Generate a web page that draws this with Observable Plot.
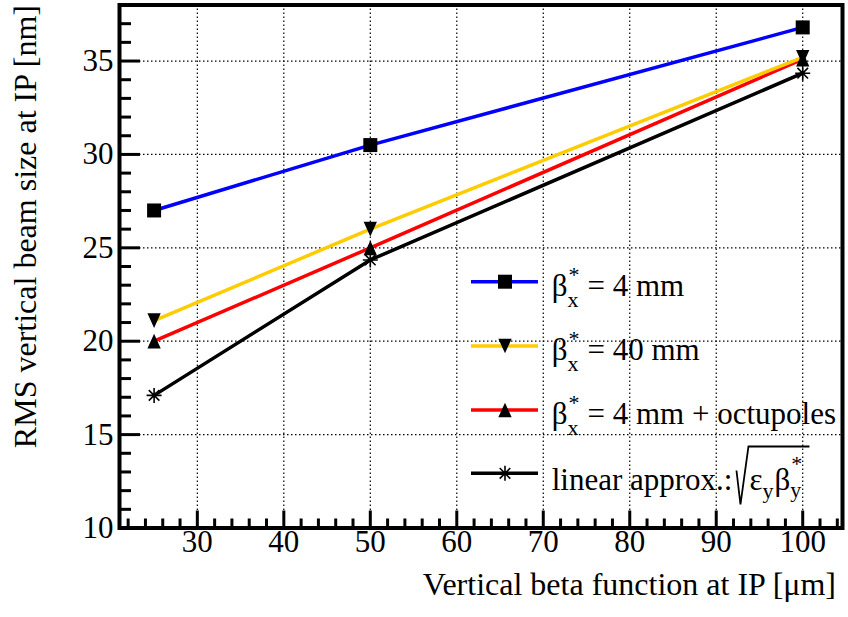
<!DOCTYPE html>
<html><head><meta charset="utf-8">
<script src="https://cdn.jsdelivr.net/npm/d3@7"></script>
<script src="https://cdn.jsdelivr.net/npm/@observablehq/plot@0.6"></script>
<style>body{margin:0;background:#fff}</style>
</head><body><div id="chart"></div>
<script>
// ---- data ----
const betaY = [25, 50, 100];                 // vertical beta function at IP [µm]
const sigma4mm = [27.0, 30.5, 36.8];        // beta*_x = 4 mm
const sigma40mm = [21.1, 26.0, 35.2];       // beta*_x = 40 mm
const sigma4mmOct = [20.0, 25.0, 35.1];     // beta*_x = 4 mm + octupoles
const sigmaLinear = [17.1, 24.35, 34.35];   // linear approx.
const xTicks = [30, 40, 50, 60, 70, 80, 90, 100];
const yTicks = [10, 15, 20, 25, 30, 35];
const xMinor = d3.range(22, 105, 2).filter(v => v % 10 !== 0);
const yMinor = d3.range(11, 38, 1).filter(v => v % 5 !== 0);

const FONT = '"Liberation Serif", "Times New Roman", serif';
const W = 848, H = 617, ML = 119, MR = 6, MT = 4.5, MB = 89.5;
const plotW = W - ML - MR, plotH = H - MT - MB;
const FS = 31, FSS = 22;

// ---- custom ROOT-like markers ----
const rOf = s => Math.sqrt(s / Math.PI);
const symSquare = {draw(c, s) { const r = rOf(s); c.rect(-r, -r, 2 * r, 2 * r); }};
const symTriUp = {draw(c, s) { const r = rOf(s); c.moveTo(0, -r * 1.05); c.lineTo(r * 0.95, r * 1.05); c.lineTo(-r * 0.95, r * 1.05); c.closePath(); }};
const symTriDown = {draw(c, s) { const r = rOf(s); c.moveTo(0, r * 1.05); c.lineTo(r * 0.95, -r * 1.05); c.lineTo(-r * 0.95, -r * 1.05); c.closePath(); }};
const symStar = {draw(c, s) { const r = rOf(s); for (let k = 0; k < 4; k++) { const a = k * Math.PI / 4; c.moveTo(-r * Math.cos(a), -r * Math.sin(a)); c.lineTo(r * Math.cos(a), r * Math.sin(a)); } }};

const series = [
  {values: sigma4mm, color: "#0000ff", symbol: symSquare, filled: true},
  {values: sigma4mmOct, color: "#ff0000", symbol: symTriUp, filled: true},
  {values: sigma40mm, color: "#ffcc00", symbol: symTriDown, filled: true},
  {values: sigmaLinear, color: "#000000", symbol: symStar, filled: false}
];
const tables = series.map(s => betaY.map((b, i) => ({x: b, y: s.values[i]})));

const dotted = {stroke: "black", strokeWidth: 1.2, strokeDasharray: "1.5,2.5"};
const marks = [
  Plot.ruleX(xTicks, {x: d => d, ...dotted}),
  Plot.ruleY(yTicks.filter(v => v > 10), {y: d => d, ...dotted}),
  Plot.ruleY(yTicks, {y: d => d, insetRight: plotW - 21, stroke: "black", strokeWidth: 3}),
  Plot.ruleY(yMinor, {y: d => d, insetRight: plotW - 12, stroke: "black", strokeWidth: 3}),
  Plot.ruleX(xTicks, {x: d => d, insetTop: plotH - 17, stroke: "black", strokeWidth: 3}),
  Plot.ruleX(xMinor, {x: d => d, insetTop: plotH - 9, stroke: "black", strokeWidth: 3}),
  Plot.frame({stroke: "black", strokeWidth: 4}),
  Plot.text(xTicks, {x: d => d, text: d => String(d), frameAnchor: "bottom", dy: 24, fontSize: FS, fill: "black"}),
  Plot.text(yTicks, {y: d => d, text: d => String(d), frameAnchor: "left", textAnchor: "end", dx: -6, fontSize: FS, fill: "black"})
];
series.forEach((s, i) => {
  marks.push(Plot.line(tables[i], {x: "x", y: "y", stroke: s.color, strokeWidth: 3.5}));
});
series.forEach((s, i) => {
  marks.push(Plot.dot(tables[i], {x: "x", y: "y", symbol: s.symbol, r: s.filled ? 7 : 7.5,
    fill: s.filled ? "black" : "none", stroke: s.filled ? "none" : "black", strokeWidth: 1.6}));
});

const svgNode = Plot.plot({
  width: W, height: H, marginLeft: ML, marginRight: MR, marginTop: MT, marginBottom: MB,
  x: {domain: [21.0, 104.6], axis: null},
  y: {domain: [10, 38], axis: null},
  style: {fontFamily: FONT, background: "white", color: "black"},
  marks
});
document.getElementById("chart").appendChild(svgNode);

// ---- axis titles ----
const svg = d3.select(svgNode);
svg.append("text").attr("x", 836).attr("y", 595).attr("text-anchor", "end")
  .attr("font-family", FONT).attr("font-size", 32).attr("fill", "black")
  .text("Vertical beta function at IP [μm]");
svg.append("text").attr("transform", "translate(36,5) rotate(-90)").attr("text-anchor", "end")
  .attr("font-family", FONT).attr("font-size", 32).attr("fill", "black")
  .text("RMS vertical beam size at IP [nm]");

// ---- legend ----
const lg = svg.append("g").attr("font-family", FONT).attr("fill", "black").attr("text-anchor", "start");
const legendRows = [
  {s: series[0], ly: 281.7, base: 296, rest: "= 4 mm"},
  {s: series[2], ly: 346, base: 360, rest: "= 40 mm"},
  {s: series[1], ly: 410, base: 424, rest: "= 4 mm + octupoles"},
  {s: series[3], ly: 473.3, base: 489.5, rest: null}
];
function txt(x, y, t, size) {
  const e = lg.append("text").attr("x", x).attr("y", y).attr("font-size", size)
    .attr("text-anchor", "start").text(t);
  return e.node().getComputedTextLength();
}
legendRows.forEach(row => {
  lg.append("line").attr("x1", 471).attr("x2", 538).attr("y1", row.ly).attr("y2", row.ly)
    .attr("stroke", row.s.color).attr("stroke-width", 3.5);
  const sym = d3.symbol().type(row.s.symbol).size(Math.PI * (row.s.filled ? 49 : 56));
  lg.append("path").attr("d", sym()).attr("transform", `translate(505,${row.ly})`)
    .attr("fill", row.s.filled ? "black" : "none").attr("stroke", row.s.filled ? "none" : "black")
    .attr("stroke-width", 1.6);
  const x0 = 551.7, B = row.base;
  if (row.rest) {
    const w1 = txt(x0, B, "β", FS);
    const ws = txt(x0 + w1 + 1, B - 14, "*", FSS);
    const wx = txt(x0 + w1, B + 11, "x", FSS);
    txt(x0 + w1 + Math.max(ws + 1, wx) + 8, B, row.rest, FS);
  } else {
    const w = txt(x0, B, "linear approx.:", FS);
    const rx = x0 + w + 4;
    lg.append("path").attr("d", `M${rx},${B - 19} L${rx + 4},${B + 15} L${rx + 12},${B - 43} H${rx + 73}`)
      .attr("fill", "none").attr("stroke", "black").attr("stroke-width", 1.8);
    let cx = rx + 13;
    cx += txt(cx, B, "ε", FS);
    cx += txt(cx, B + 8, "y", FSS) + 1;
    const wb = txt(cx, B, "β", FS);
    cx += wb;
    txt(cx + 1, B - 19, "*", FSS);
    txt(cx, B + 7, "y", FSS);
  }
});
</script>
</body></html>
